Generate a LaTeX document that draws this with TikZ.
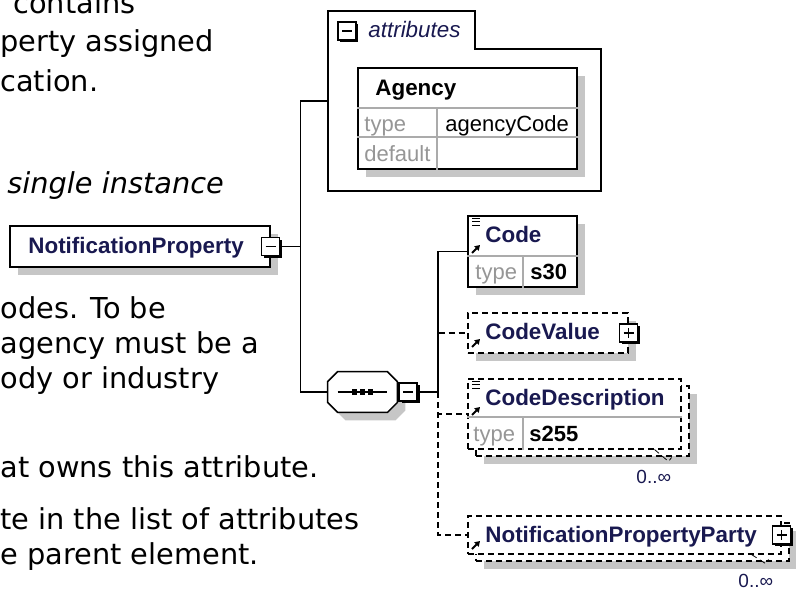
\documentclass[tikz,border=0pt]{standalone}
\usepackage{fontspec}
\setmainfont{DejaVu Sans}
\newfontfamily\xsdfont{Liberation Sans}
\usetikzlibrary{positioning}
\usetikzlibrary{arrows.meta}
\usetikzlibrary{shadows}

\definecolor{xsdname}{RGB}{25,25,80}
\definecolor{xsdkey}{RGB}{150,150,150}
\definecolor{xsdshade}{RGB}{198,198,198}

\begin{document}
\begin{tikzpicture}[
    x=0.5pt, y=0.5pt,
    prose/.style={anchor=base west, inner sep=0pt, font=\fontsize{14.4}{17}\selectfont},
    boxshadow/.style={drop shadow={shadow xshift=4pt, shadow yshift=-4pt, fill=xsdshade, opacity=1}},
    frame/.style={draw, line width=0.75pt, fill=white, inner sep=0pt, anchor=north west},
    elem/.style={frame, boxshadow},
    optelem/.style={frame, dash pattern=on 3pt off 2pt},
    elemname/.style={anchor=base west, inner sep=0pt, text=xsdname, font=\xsdfont\fontsize{11.2}{13}\selectfont\bfseries},
    propkey/.style={anchor=base west, inner sep=0pt, text=xsdkey, font=\xsdfont\fontsize{11}{13}\selectfont},
    propval/.style={anchor=base west, inner sep=0pt, font=\xsdfont\fontsize{11}{13}\selectfont},
    occurs/.style={anchor=north east, inner sep=0pt, text=xsdname, font=\xsdfont\fontsize{9.5}{11}\selectfont},
    toggle/.style={draw, fill=white, line width=0.75pt, minimum size=9pt, inner sep=0pt,
        drop shadow={shadow xshift=1.2pt, shadow yshift=-1.2pt, fill=black, opacity=1}},
    minusbox/.style={toggle, path picture={
        \draw[line width=0.75pt] ([xshift=2pt]path picture bounding box.west) -- ([xshift=-2pt]path picture bounding box.east);}},
    plusbox/.style={toggle, path picture={
        \draw[line width=0.75pt] ([xshift=2pt]path picture bounding box.west) -- ([xshift=-2pt]path picture bounding box.east);
        \draw[line width=0.75pt] ([yshift=2pt]path picture bounding box.south) -- ([yshift=-2pt]path picture bounding box.north);}},
    seqoutline/.style={insert path={
        ([xshift=5pt]seq.north west) -- ([xshift=-5pt]seq.north east) -- ([yshift=-5pt]seq.north east)
        -- ([yshift=5pt]seq.south east) -- ([xshift=-5pt]seq.south east) -- ([xshift=5pt]seq.south west)
        -- ([yshift=5pt]seq.south west) -- ([yshift=-5pt]seq.north west) -- cycle}},
    conn/.style={line width=0.75pt},
    optconn/.style={conn, dash pattern=on 3pt off 2pt},
    divider/.style={draw=xsdkey!80, line width=0.6pt},
    pics/docmark/.style={code={
        \foreach \k in {0,1,2} \draw[line width=0.5pt] (0,-\k*3.5) -- ++(8,0);}},
    pics/refmark/.style={code={
        \draw[line width=1pt, -{Triangle[length=2.5pt, width=3pt]}] (0,0) -- (8,8);}}
]
    \clip (0,0) rectangle (796,-589);

    % text of the page behind the diagram
    \node[prose] (p1) at (13,-13) {contains};
    \node[prose] (p2) at (0,-51) {perty assigned};
    \node[prose] (p3) at (0,-91) {cation.};
    \node[prose, font=\fontsize{14.4}{17}\selectfont\itshape] (p4) at (7,-193) {single instance};
    \node[prose] (p5) at (0,-318) {odes. To be};
    \node[prose] (p6) at (0,-353) {agency must be a};
    \node[prose] (p7) at (0,-388) {ody or industry};
    \node[prose] (p8) at (0,-477) {at owns this attribute.};
    \node[prose] (p9) at (0,-529) {te in the list of attributes};
    \node[prose] (p10) at (0,-564) {e parent element.};

    % root element
    \node[elem, minimum width=130pt, minimum height=20.5pt] (root) at (9,-225) {};
    \node[elemname] (rootname) at (28,-253) {NotificationProperty};
    \node[minusbox] (roottog) at (root.east) {};
    \coordinate (rootbus) at ([xshift=10pt]roottog.east);

    % attributes group
    \node[anchor=north west, inner sep=0pt, minimum width=136pt, minimum height=89.5pt] (attrs) at (328,-11) {};
    \draw[conn] (attrs.north west) -- ++(147,0) |- ([yshift=-19pt]attrs.north east) -- (attrs.south east) -- (attrs.south west) -- cycle;
    \node[minusbox] (attrstog) at (347,-31) {};
    \node[anchor=base west, inner sep=0pt, text=xsdname, font=\xsdfont\fontsize{11.2}{13}\selectfont\itshape] (attrslabel) at (368,-37) {attributes};

    \node[elem, minimum width=109.5pt, minimum height=50.5pt] (agency) at (357,-67) {};
    \draw[divider] ([yshift=-20.5pt]agency.north west) -- ([yshift=-20.5pt]agency.north east);
    \draw[divider] ([yshift=-35pt]agency.north west) -- ([yshift=-35pt]agency.north east);
    \draw[divider] ([xshift=40pt,yshift=-20.5pt]agency.north west) -- ([xshift=40pt]agency.south west);
    \node[elemname, text=black] (agencyname) at (375,-95) {Agency};
    \node[propkey] (agencytypek) at (364,-131) {type};
    \node[propval] (agencytypev) at (445,-131) {agencyCode};
    \node[propkey] (agencydefk) at (364,-161) {default};

    % sequence
    \node[inner sep=0pt, minimum width=34.5pt, minimum height=20pt] (seq) at (362.5,-392) {};
    \fill[xsdshade, transform canvas={shift={(4pt,-4pt)}}, seqoutline];
    \filldraw[fill=white, conn, seqoutline];
    \draw[line width=0.7pt] ([xshift=5pt]seq.west) -- ([xshift=-5pt]seq.east);
    \foreach \dx in {-4pt,0pt,4pt}
        \fill ([xshift=\dx]seq.center) +(-1.3pt,-1.3pt) rectangle +(1.3pt,1.3pt);
    \node[minusbox, right=0.5pt of seq] (seqtog) {};
    \coordinate (seqbus) at ([xshift=10pt]seqtog.east);

    % Code
    \node[elem, minimum width=54.5pt, minimum height=35.5pt] (code) at (467,-215) {};
    \draw[divider] ([yshift=-20.5pt]code.north west) -- ([yshift=-20.5pt]code.north east);
    \draw[divider] ([xshift=28pt,yshift=-20.5pt]code.north west) -- ([xshift=28pt]code.south west);
    \pic at ([shift={(2.5pt,-1.5pt)}]code.north west) {docmark};
    \pic at ([shift={(2.5pt,-19pt)}]code.north west) {refmark};
    \node[elemname] (codename) at (485,-242) {Code};
    \node[propkey] (codetypek) at (475,-279) {type};
    \node[propval, font=\xsdfont\fontsize{11}{13}\selectfont\bfseries] (codetypev) at (530,-279) {s30};

    % CodeValue
    \node[optelem, boxshadow, minimum width=80pt, minimum height=20pt] (codevalue) at (467,-312) {};
    \pic at ([shift={(2.5pt,-17.5pt)}]codevalue.north west) {refmark};
    \node[elemname] (codevaluename) at (485,-339) {CodeValue};
    \node[plusbox] (codevaluetog) at (codevalue.east) {};

    % CodeDescription
    \node[optelem, boxshadow, minimum width=106.5pt, minimum height=35pt] (codedescback) at (475,-385) {};
    \node[optelem, minimum width=106.5pt, minimum height=35pt] (codedesc) at (467,-378) {};
    \draw[divider] ([yshift=-19.5pt]codedesc.north west) -- ([yshift=-19.5pt]codedesc.north east);
    \draw[divider] ([xshift=28pt,yshift=-19.5pt]codedesc.north west) -- ([xshift=28pt]codedesc.south west);
    \pic at ([shift={(2.5pt,-1.5pt)}]codedesc.north west) {docmark};
    \pic at ([shift={(2.5pt,-18.5pt)}]codedesc.north west) {refmark};
    \node[elemname] (codedescname) at (485,-405) {CodeDescription};
    \node[propkey] (codedesctypek) at (473,-441) {type};
    \node[propval, font=\xsdfont\fontsize{11}{13}\selectfont\bfseries] (codedesctypev) at (529,-441) {s255};
    \draw[line width=0.4pt, densely dashed] ([xshift=-13.5pt]codedesc.south east) -- ++(7pt,-6pt) -- ++(1.5pt,2pt);
    \node[occurs] (codedescoccurs) at ([xshift=-9pt,yshift=-6.5pt]codedescback.south east) {0..∞};

    % NotificationPropertyParty
    \node[optelem, boxshadow, minimum width=156.5pt, minimum height=19pt] (partyback) at (475,-522) {};
    \node[optelem, minimum width=156.5pt, minimum height=19pt] (party) at (467,-515) {};
    \pic at ([shift={(2.5pt,-17pt)}]party.north west) {refmark};
    \node[elemname] (partyname) at (485,-542) {NotificationPropertyParty};
    \node[plusbox] (partytog) at (party.east) {};
    \draw[line width=0.4pt, densely dashed] ([xshift=-15pt]party.south east) -- ++(7pt,-4.5pt) -- ++(1.5pt,2pt);
    \node[occurs] (partyoccurs) at ([xshift=-8pt,yshift=-6pt]partyback.south east) {0..∞};

    % connectors
    \draw[conn] (roottog.east) -- (rootbus);
    \draw[conn] (rootbus) |- (attrs.west);
    \draw[conn] (rootbus) |- (seq.west);
    \draw[conn] (seqtog.east) -- (seqbus);
    \draw[conn] (seqbus) |- (code.west);
    \draw[optconn] (seqbus) |- (codevalue.west);
    \draw[optconn] (seqbus) |- (codedesc.west);
    \draw[optconn] (seqbus) |- (party.west);
\end{tikzpicture}
\end{document}
